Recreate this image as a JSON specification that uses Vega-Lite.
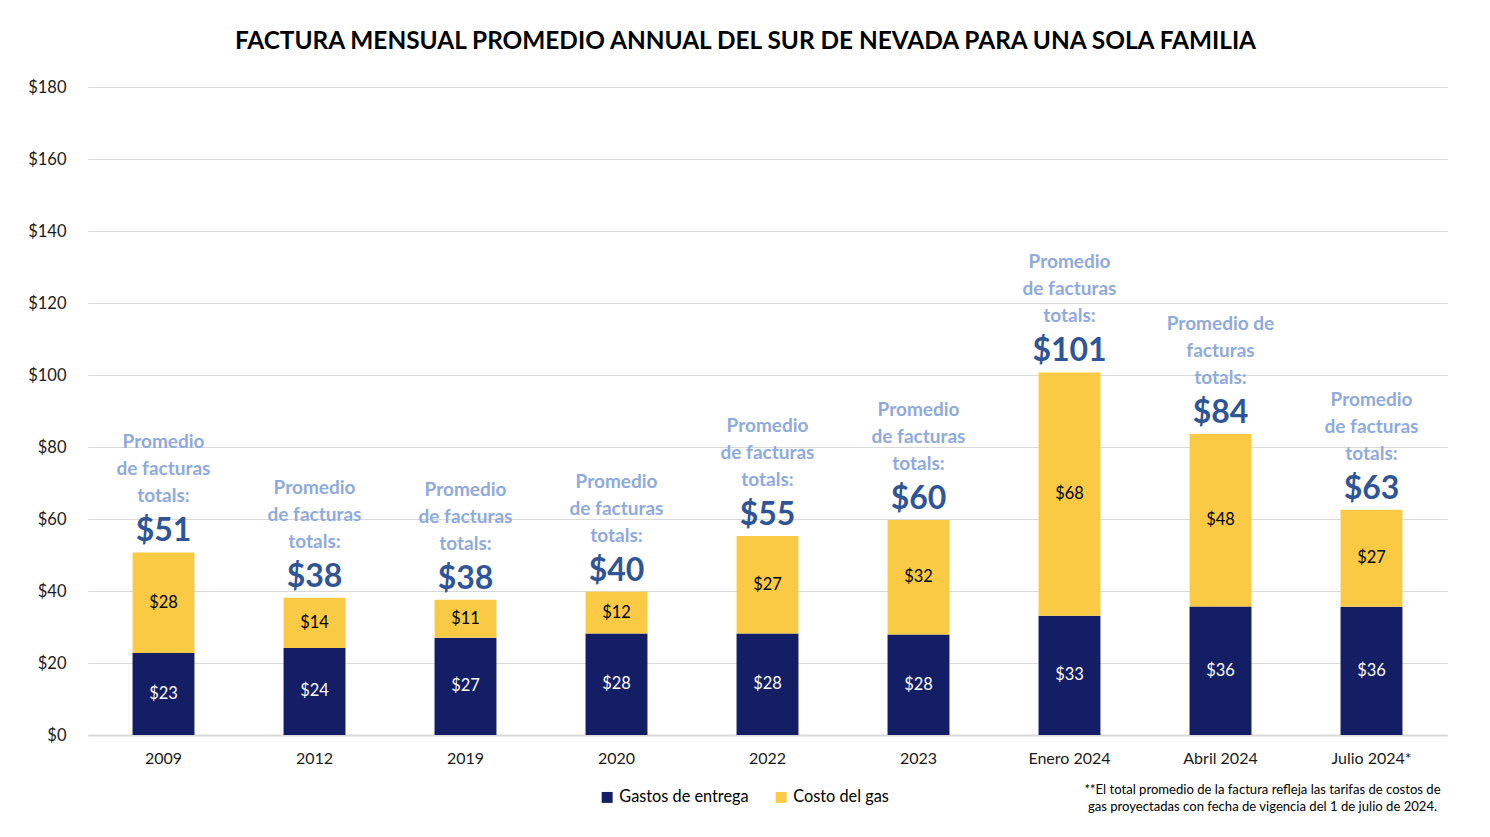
{
  "$schema": "https://vega.github.io/schema/vega-lite/v6.json",
  "width": 1359,
  "height": 648,
  "autosize": {"type": "none"},
  "padding": {"left": 88, "top": 87, "right": 43, "bottom": 102},
  "background": "white",
  "config": {
    "font": "Lato",
    "view": {"stroke": null},
    "axisY": {
      "grid": true,
      "gridColor": "#d9d9d9",
      "domain": false,
      "ticks": false,
      "labelPadding": 22,
      "labelFontSize": 16.5,
      "labelColor": "#1a1a1a"
    }
  },
  "title": {
    "text": "FACTURA MENSUAL PROMEDIO ANNUAL DEL SUR DE NEVADA PARA UNA SOLA FAMILIA",
    "fontSize": 24.4,
    "fontWeight": "bold",
    "color": "black",
    "anchor": "middle",
    "dx": -22,
    "offset": 25
  },
  "data": {
    "values": [
      {"year": "2009", "segment": "Gastos de entrega", "value": 22.8, "nota": "Promedio\nde facturas\ntotals:"},
      {"year": "2009", "segment": "Costo del gas", "value": 27.9, "nota": "Promedio\nde facturas\ntotals:"},
      {"year": "2012", "segment": "Gastos de entrega", "value": 24.2, "nota": "Promedio\nde facturas\ntotals:"},
      {"year": "2012", "segment": "Costo del gas", "value": 13.9, "nota": "Promedio\nde facturas\ntotals:"},
      {"year": "2019", "segment": "Gastos de entrega", "value": 27.0, "nota": "Promedio\nde facturas\ntotals:"},
      {"year": "2019", "segment": "Costo del gas", "value": 10.6, "nota": "Promedio\nde facturas\ntotals:"},
      {"year": "2020", "segment": "Gastos de entrega", "value": 28.2, "nota": "Promedio\nde facturas\ntotals:"},
      {"year": "2020", "segment": "Costo del gas", "value": 11.6, "nota": "Promedio\nde facturas\ntotals:"},
      {"year": "2022", "segment": "Gastos de entrega", "value": 28.2, "nota": "Promedio\nde facturas\ntotals:"},
      {"year": "2022", "segment": "Costo del gas", "value": 27.1, "nota": "Promedio\nde facturas\ntotals:"},
      {"year": "2023", "segment": "Gastos de entrega", "value": 27.9, "nota": "Promedio\nde facturas\ntotals:"},
      {"year": "2023", "segment": "Costo del gas", "value": 31.8, "nota": "Promedio\nde facturas\ntotals:"},
      {"year": "Enero 2024", "segment": "Gastos de entrega", "value": 33.1, "nota": "Promedio\nde facturas\ntotals:"},
      {"year": "Enero 2024", "segment": "Costo del gas", "value": 67.6, "nota": "Promedio\nde facturas\ntotals:"},
      {"year": "Abril 2024", "segment": "Gastos de entrega", "value": 35.7, "nota": "Promedio de\nfacturas\ntotals:"},
      {"year": "Abril 2024", "segment": "Costo del gas", "value": 47.9, "nota": "Promedio de\nfacturas\ntotals:"},
      {"year": "Julio 2024*", "segment": "Gastos de entrega", "value": 35.6, "nota": "Promedio\nde facturas\ntotals:"},
      {"year": "Julio 2024*", "segment": "Costo del gas", "value": 27.0, "nota": "Promedio\nde facturas\ntotals:"}
    ]
  },
  "encoding": {
    "x": {
      "field": "year",
      "type": "nominal",
      "sort": ["2009", "2012", "2019", "2020", "2022", "2023", "Enero 2024", "Abril 2024", "Julio 2024*"],
      "scale": {"paddingInner": 0.59, "paddingOuter": 0.295},
      "axis": {
        "labelAngle": 0,
        "labelFontSize": 16,
        "labelColor": "#1a1a1a",
        "labelPadding": 15,
        "ticks": false,
        "domainColor": "#d9d9d9",
        "domainWidth": 2,
        "title": ["**El total promedio de la factura refleja las tarifas de costos de", "gas proyectadas con fecha de vigencia del 1 de julio de 2024."],
        "titleFontSize": 13.1,
        "titleFontWeight": "normal",
        "titleColor": "black",
        "titleX": 1174,
        "titleY": 48,
        "titleAlign": "center",
        "titleBaseline": "top",
        "titleLineHeight": 17
      }
    }
  },
  "layer": [
    {
      "transform": [{"stack": "value", "groupby": ["year"], "sort": [{"field": "segment", "order": "descending"}], "as": ["y0", "y1"]}],
      "mark": {"type": "bar"},
      "encoding": {
        "y": {
          "field": "y0",
          "type": "quantitative",
          "scale": {"domain": [0, 180], "nice": false},
          "axis": {
            "title": null,
            "values": [0, 20, 40, 60, 80, 100, 120, 140, 160, 180],
            "format": "$.0f"
          }
        },
        "y2": {"field": "y1"},
        "color": {
          "field": "segment",
          "type": "nominal",
          "scale": {"domain": ["Gastos de entrega", "Costo del gas"], "range": ["#141E64", "#FACA45"]},
          "legend": {
            "title": null,
            "orient": "none",
            "legendX": 511,
            "legendY": 702,
            "direction": "horizontal",
            "symbolType": "square",
            "symbolSize": 120,
            "symbolStrokeWidth": 0,
            "labelFontSize": 16.3,
            "labelColor": "black",
            "columnPadding": 24,
            "labelOffset": 4
          }
        }
      }
    },
    {
      "transform": [
        {"stack": "value", "groupby": ["year"], "sort": [{"field": "segment", "order": "descending"}], "as": ["y0", "y1"]},
        {"fold": ["y0", "y1"], "as": ["edge", "pos"]},
        {"aggregate": [{"op": "mean", "field": "pos", "as": "mid"}, {"op": "max", "field": "value", "as": "amount"}], "groupby": ["year", "segment"]}
      ],
      "mark": {"type": "text", "fontSize": 16.5, "baseline": "middle", "align": "center"},
      "encoding": {
        "y": {"field": "mid", "type": "quantitative", "axis": {"title": null, "format": "$.0f"}},
        "text": {"field": "amount", "type": "quantitative", "format": "$.0f"},
        "color": {"condition": {"test": "datum.segment === 'Gastos de entrega'", "value": "white"}, "value": "black"}
      }
    },
    {
      "transform": [{"aggregate": [{"op": "sum", "field": "value", "as": "total"}], "groupby": ["year", "nota"]}],
      "mark": {"type": "text", "fontSize": 32, "fontWeight": "bold", "color": "#2F5597", "baseline": "alphabetic", "align": "center", "dy": -11},
      "encoding": {
        "y": {"field": "total", "type": "quantitative", "axis": {"title": null, "format": "$.0f"}},
        "text": {"field": "total", "type": "quantitative", "format": "$.0f"}
      }
    },
    {
      "transform": [{"aggregate": [{"op": "sum", "field": "value", "as": "total"}], "groupby": ["year", "nota"]}],
      "mark": {"type": "text", "fontSize": 19, "fontWeight": "bold", "color": "#8FAADC", "baseline": "bottom", "align": "center", "dy": -100, "lineBreak": "\n", "lineHeight": 27},
      "encoding": {
        "y": {"field": "total", "type": "quantitative", "axis": {"title": null, "format": "$.0f"}},
        "text": {"field": "nota", "type": "nominal"}
      }
    }
  ]
}
